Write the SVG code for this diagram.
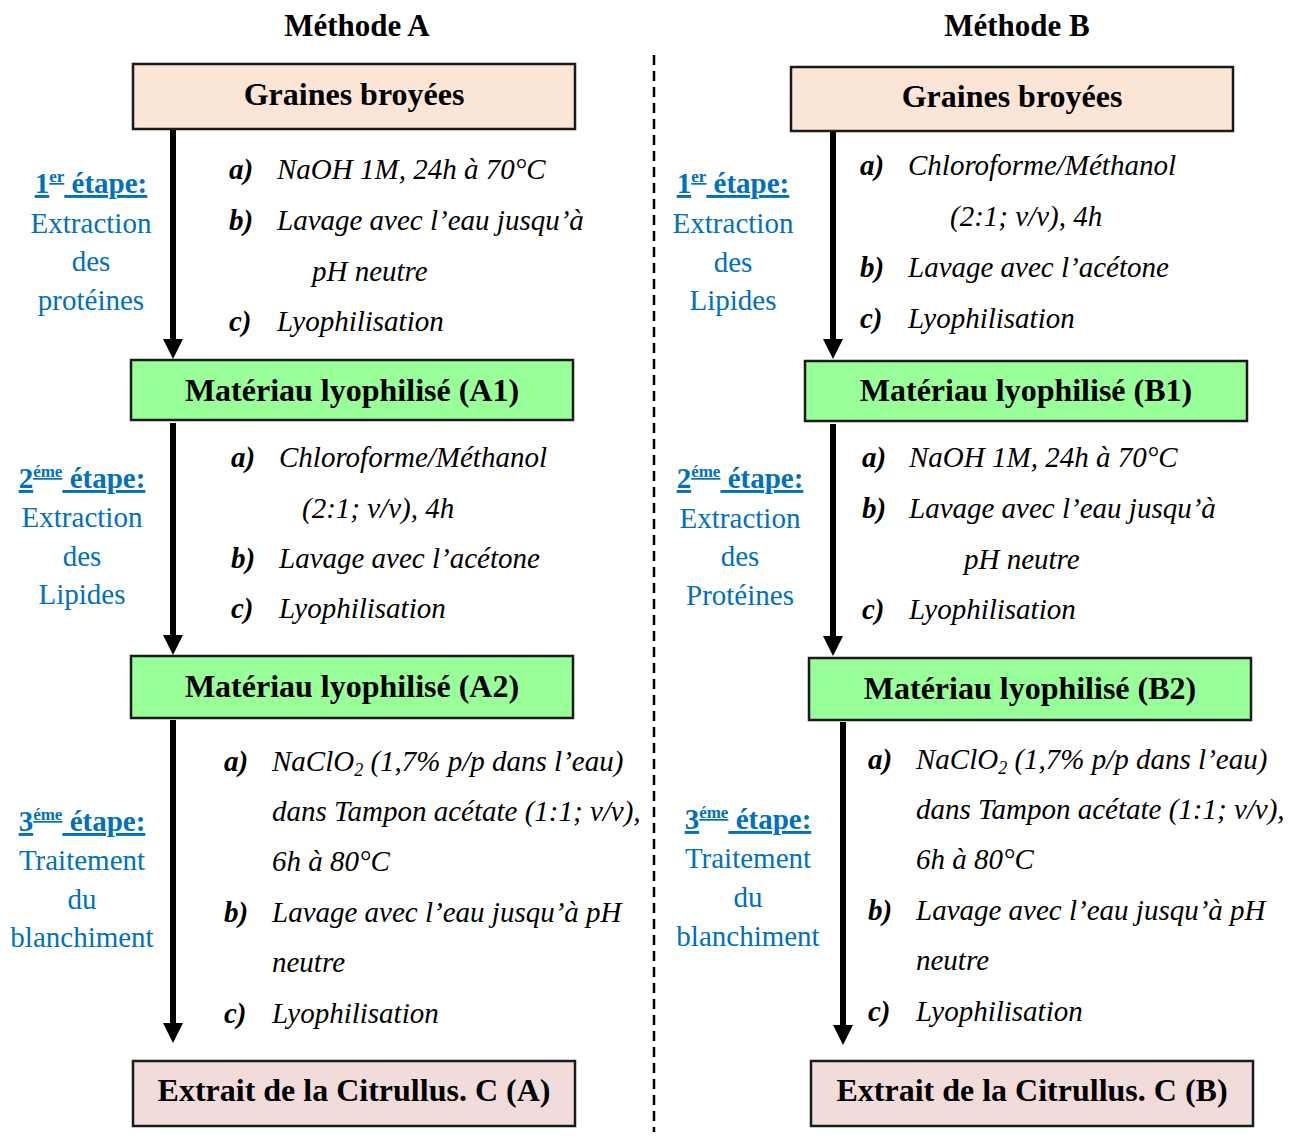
<svg xmlns="http://www.w3.org/2000/svg" width="1300" height="1136" viewBox="0 0 1300 1136">
<defs>
<marker id="ah" viewBox="0 0 20 20" refX="5" refY="10" markerWidth="20" markerHeight="20" markerUnits="userSpaceOnUse" orient="auto"><path d="M0,0 L20,10 L0,20 z" fill="#000"/></marker>
<style>
text{font-family:"Liberation Serif","Times New Roman",serif;}
.title{font-size:31px;font-weight:bold;text-anchor:middle;fill:#000;}
.bt{font-size:32px;font-weight:bold;text-anchor:middle;fill:#000;}
.box{stroke:#1a1a1a;stroke-width:2.5;}
.peach{fill:#FBE5D6;}
.green{fill:#99FF99;}
.pink{fill:#F2DCDB;}
.step{font-size:29px;fill:#0070C0;text-anchor:middle;}
.sh{font-weight:bold;text-decoration:underline;}
.it{font-size:29px;font-style:italic;fill:#000;}
.lb{font-size:29px;font-style:italic;font-weight:bold;fill:#000;}
.arr{stroke:#000;stroke-width:6;fill:none;marker-end:url(#ah);}
</style>
</defs>
<rect width="1300" height="1136" fill="#fff"/>
<text class="title" x="357" y="36">Méthode A</text>
<text class="title" x="1017" y="36">Méthode B</text>
<line x1="654" y1="55" x2="654" y2="1132" stroke="#000" stroke-width="2.5" stroke-dasharray="10,6"/>

<g id="connectors">
<line class="arr" x1="173" y1="130" x2="173" y2="344"/>
<line class="arr" x1="173" y1="423" x2="173" y2="640"/>
<line class="arr" x1="173" y1="720" x2="173" y2="1028"/>
<line class="arr" x1="833" y1="132" x2="833" y2="344"/>
<line class="arr" x1="833" y1="424" x2="833" y2="641"/>
<line class="arr" x1="843" y1="722" x2="843" y2="1030"/>
</g>

<g id="nodeA0"><rect class="box peach" x="133" y="64" width="442" height="65"/><text class="bt" x="354" y="105">Graines broyées</text></g>
<g id="nodeA1"><rect class="box green" x="131" y="360" width="442" height="60"/><text class="bt" x="352" y="401">Matériau lyophilisé (A1)</text></g>
<g id="nodeA2"><rect class="box green" x="131" y="656" width="442" height="62"/><text class="bt" x="352" y="697">Matériau lyophilisé (A2)</text></g>
<g id="nodeA3"><rect class="box pink" x="133" y="1061" width="442" height="65"/><text class="bt" x="354" y="1101">Extrait de la Citrullus. C (A)</text></g>

<g id="nodeB0"><rect class="box peach" x="791" y="67" width="442" height="64"/><text class="bt" x="1012" y="107">Graines broyées</text></g>
<g id="nodeB1"><rect class="box green" x="805" y="361" width="442" height="60"/><text class="bt" x="1026" y="401">Matériau lyophilisé (B1)</text></g>
<g id="nodeB2"><rect class="box green" x="809" y="658" width="442" height="62"/><text class="bt" x="1030" y="699">Matériau lyophilisé (B2)</text></g>
<g id="nodeB3"><rect class="box pink" x="811" y="1061" width="442" height="65"/><text class="bt" x="1032" y="1101">Extrait de la Citrullus. C (B)</text></g>

<g id="stepA1">
<text class="step sh" x="91" y="193">1<tspan font-size="17" dy="-11">er</tspan><tspan dy="11"> étape:</tspan></text>
<text class="step" x="91" y="233">Extraction</text>
<text class="step" x="91" y="271">des</text>
<text class="step" x="91" y="310">protéines</text>
<text class="lb" x="229" y="179">a)</text><text class="it" x="277" y="179">NaOH 1M, 24h à 70°C</text>
<text class="lb" x="229" y="230">b)</text><text class="it" x="277" y="230">Lavage avec l’eau jusqu’à</text>
<text class="it" x="312" y="281">pH neutre</text>
<text class="lb" x="229" y="331">c)</text><text class="it" x="277" y="331">Lyophilisation</text>
</g>

<g id="stepA2">
<text class="step sh" x="82" y="488">2<tspan font-size="17" dy="-11">éme</tspan><tspan dy="11"> étape:</tspan></text>
<text class="step" x="82" y="527">Extraction</text>
<text class="step" x="82" y="566">des</text>
<text class="step" x="82" y="604">Lipides</text>
<text class="lb" x="231" y="467">a)</text><text class="it" x="279" y="467">Chloroforme/Méthanol</text>
<text class="it" x="302" y="518">(2:1; v/v), 4h</text>
<text class="lb" x="231" y="568">b)</text><text class="it" x="279" y="568">Lavage avec l’acétone</text>
<text class="lb" x="231" y="618">c)</text><text class="it" x="279" y="618">Lyophilisation</text>
</g>

<g id="stepA3">
<text class="step sh" x="82" y="831">3<tspan font-size="17" dy="-11">éme</tspan><tspan dy="11"> étape:</tspan></text>
<text class="step" x="82" y="870">Traitement</text>
<text class="step" x="82" y="909">du</text>
<text class="step" x="82" y="947">blanchiment</text>
<text class="lb" x="224" y="771">a)</text><text class="it" x="272" y="771">NaClO<tspan font-size="18" dy="5">2</tspan><tspan dy="-5"> (1,7% p/p dans l’eau)</tspan></text>
<text class="it" x="272" y="821">dans Tampon acétate (1:1; v/v),</text>
<text class="it" x="272" y="871">6h à 80°C</text>
<text class="lb" x="224" y="922">b)</text><text class="it" x="272" y="922">Lavage avec l’eau jusqu’à pH</text>
<text class="it" x="272" y="972">neutre</text>
<text class="lb" x="224" y="1023">c)</text><text class="it" x="272" y="1023">Lyophilisation</text>
</g>

<g id="stepB1">
<text class="step sh" x="733" y="193">1<tspan font-size="17" dy="-11">er</tspan><tspan dy="11"> étape:</tspan></text>
<text class="step" x="733" y="233">Extraction</text>
<text class="step" x="733" y="272">des</text>
<text class="step" x="733" y="310">Lipides</text>
<text class="lb" x="860" y="175">a)</text><text class="it" x="908" y="175">Chloroforme/Méthanol</text>
<text class="it" x="950" y="226">(2:1; v/v), 4h</text>
<text class="lb" x="860" y="277">b)</text><text class="it" x="908" y="277">Lavage avec l’acétone</text>
<text class="lb" x="860" y="328">c)</text><text class="it" x="908" y="328">Lyophilisation</text>
</g>

<g id="stepB2">
<text class="step sh" x="740" y="488">2<tspan font-size="17" dy="-11">éme</tspan><tspan dy="11"> étape:</tspan></text>
<text class="step" x="740" y="528">Extraction</text>
<text class="step" x="740" y="566">des</text>
<text class="step" x="740" y="605">Protéines</text>
<text class="lb" x="862" y="467">a)</text><text class="it" x="909" y="467">NaOH 1M, 24h à 70°C</text>
<text class="lb" x="862" y="518">b)</text><text class="it" x="909" y="518">Lavage avec l’eau jusqu’à</text>
<text class="it" x="964" y="569">pH neutre</text>
<text class="lb" x="862" y="619">c)</text><text class="it" x="909" y="619">Lyophilisation</text>
</g>

<g id="stepB3">
<text class="step sh" x="748" y="829">3<tspan font-size="17" dy="-11">éme</tspan><tspan dy="11"> étape:</tspan></text>
<text class="step" x="748" y="868">Traitement</text>
<text class="step" x="748" y="907">du</text>
<text class="step" x="748" y="946">blanchiment</text>
<text class="lb" x="868" y="769">a)</text><text class="it" x="916" y="769">NaClO<tspan font-size="18" dy="5">2</tspan><tspan dy="-5"> (1,7% p/p dans l’eau)</tspan></text>
<text class="it" x="916" y="819">dans Tampon acétate (1:1; v/v),</text>
<text class="it" x="916" y="869">6h à 80°C</text>
<text class="lb" x="868" y="920">b)</text><text class="it" x="916" y="920">Lavage avec l’eau jusqu’à pH</text>
<text class="it" x="916" y="970">neutre</text>
<text class="lb" x="868" y="1021">c)</text><text class="it" x="916" y="1021">Lyophilisation</text>
</g>
</svg>
